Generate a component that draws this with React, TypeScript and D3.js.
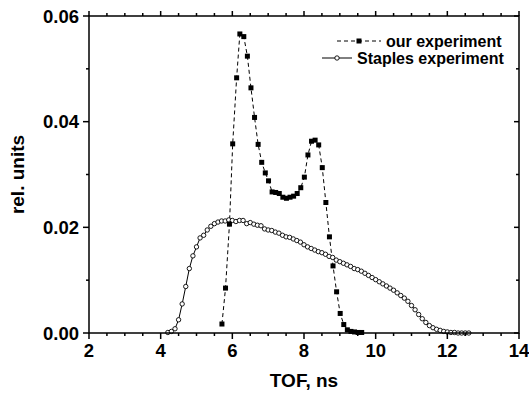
import React from "react";
import * as d3 from "d3";

const ourX = [5.71, 5.81, 5.92, 6.01, 6.12, 6.21, 6.32, 6.42, 6.52, 6.62, 6.72, 6.82, 6.92, 7.01, 7.11, 7.21, 7.31, 7.41, 7.51, 7.61, 7.71, 7.81, 7.91, 8.01, 8.11, 8.21, 8.31, 8.41, 8.51, 8.61, 8.71, 8.81, 8.91, 9.01, 9.11, 9.21, 9.31, 9.41, 9.51, 9.61];
const ourY = [0.0017, 0.0085, 0.0206, 0.0358, 0.0483, 0.0566, 0.0561, 0.0524, 0.0464, 0.0408, 0.0357, 0.0323, 0.0303, 0.0288, 0.0267, 0.0266, 0.0264, 0.0257, 0.0255, 0.0257, 0.0259, 0.0264, 0.0275, 0.0295, 0.0337, 0.0363, 0.0365, 0.0356, 0.0313, 0.0247, 0.0182, 0.0127, 0.0078, 0.0037, 0.0016, 0.0006, 0.0003, 0.0002, 0.0001, 0.0001];

const stapX = [4.2, 4.3, 4.4, 4.5, 4.6, 4.7, 4.8, 4.9, 5.0, 5.1, 5.2, 5.3, 5.4, 5.5, 5.6, 5.7, 5.8, 5.9, 6.0, 6.1, 6.2, 6.3, 6.4, 6.5, 6.6, 6.7, 6.8, 6.9, 7.0, 7.1, 7.2, 7.3, 7.4, 7.5, 7.6, 7.7, 7.8, 7.9, 8.0, 8.1, 8.2, 8.3, 8.4, 8.5, 8.6, 8.7, 8.8, 8.9, 9.0, 9.1, 9.2, 9.3, 9.4, 9.5, 9.6, 9.7, 9.8, 9.9, 10.0, 10.1, 10.2, 10.3, 10.4, 10.5, 10.6, 10.7, 10.8, 10.9, 11.0, 11.1, 11.2, 11.3, 11.4, 11.5, 11.6, 11.7, 11.8, 11.9, 12.0, 12.1, 12.2, 12.3, 12.4, 12.5, 12.6];
const stapY = [0.0001, 0.0003, 0.0008, 0.0025, 0.0055, 0.0088, 0.0122, 0.0146, 0.0163, 0.018, 0.0185, 0.0195, 0.0202, 0.0207, 0.021, 0.0212, 0.0212, 0.0214, 0.0213, 0.0211, 0.0213, 0.0213, 0.0207, 0.0209, 0.0206, 0.0204, 0.0203, 0.0197, 0.0195, 0.0194, 0.0191, 0.0189, 0.0185, 0.0182, 0.0181, 0.0178, 0.0175, 0.0172, 0.0167, 0.0163, 0.016, 0.0157, 0.0154, 0.0152, 0.0149, 0.0145, 0.0143, 0.0138, 0.0135, 0.0132, 0.0129, 0.0126, 0.0122, 0.012, 0.0117, 0.0113, 0.0109, 0.0105, 0.0101, 0.0097, 0.0093, 0.0089, 0.0085, 0.0081, 0.0076, 0.0071, 0.0066, 0.006, 0.0052, 0.0044, 0.0035, 0.0027, 0.002, 0.0014, 0.001, 0.0007, 0.0005, 0.0003, 0.0002, 0.0001, 0.0001, 0, 0, 0, 0];

const xMajor = [2, 4, 6, 8, 10, 12, 14];
const xMinor = [3, 5, 7, 9, 11, 13, 2.5, 3.5, 4.5, 5.5, 6.5, 7.5, 8.5, 9.5, 10.5, 11.5, 12.5, 13.5];
const yMajor = [0, 0.02, 0.04, 0.06];
const yMinor = [0.01, 0.03, 0.05];
const xTitle = "TOF, ns";
const yTitle = "rel. units";
const legendLabels = ["our experiment", "Staples experiment"];

const W = 529, H = 394;
const L = 89, R = 519, T = 16, B = 333;
const FONT = "'Liberation Sans', Arial, sans-serif";

export default function App() {
  const x = d3.scaleLinear().domain([2, 14]).range([L, R]);
  const y = d3.scaleLinear().domain([0, 0.06]).range([B, T]);
  const our = ourX.map((v, i) => [v, ourY[i]] as [number, number]);
  const stap = stapX.map((v, i) => [v, stapY[i]] as [number, number]);
  const line = d3.line<[number, number]>().x(d => x(d[0])).y(d => y(d[1]));
  const sw = 1.5;
  const ly1 = 41, ly2 = 58;
  return (
    <svg width={W} height={H} style={{ position: "absolute", left: 0, top: 0, background: "#fff" }} fontFamily={FONT}>
      <rect width={W} height={H} fill="#fff" />
      {/* data */}
      <path d={line(stap) || ""} fill="none" stroke="#000" strokeWidth={1} />
      <path d={line(our) || ""} fill="none" stroke="#000" strokeWidth={1} strokeDasharray="4,3" />
      {stap.map((d, i) => (
        <circle key={"c" + i} cx={x(d[0])} cy={y(d[1])} r={2.2} fill="#fff" stroke="#000" strokeWidth={0.9} />
      ))}
      {our.map((d, i) => (
        <rect key={"s" + i} x={x(d[0]) - 2.5} y={y(d[1]) - 2.5} width={5} height={5} fill="#000" />
      ))}
      {/* frame */}
      <rect x={L} y={T} width={R - L} height={B - T} fill="none" stroke="#000" strokeWidth={sw} />
      {/* x ticks */}
      {xMajor.map(v => (
        <g key={"xm" + v}>
          <line x1={x(v)} x2={x(v)} y1={B} y2={B + 6} stroke="#000" strokeWidth={sw} />
          <line x1={x(v)} x2={x(v)} y1={T} y2={T - 5} stroke="#000" strokeWidth={sw} />
          <text x={x(v)} y={357} textAnchor="middle" fontSize={18.5} fontWeight="bold">{v}</text>
        </g>
      ))}
      {xMinor.map(v => (
        <g key={"xn" + v}>
          <line x1={x(v)} x2={x(v)} y1={B} y2={B + 3} stroke="#000" strokeWidth={sw} />
          <line x1={x(v)} x2={x(v)} y1={T} y2={T - 3} stroke="#000" strokeWidth={sw} />
        </g>
      ))}
      {/* y ticks */}
      {yMajor.map(v => (
        <g key={"ym" + v}>
          <line x1={L} x2={L - 6} y1={y(v)} y2={y(v)} stroke="#000" strokeWidth={sw} />
          <line x1={R} x2={R - 5} y1={y(v)} y2={y(v)} stroke="#000" strokeWidth={sw} />
          <text x={79} y={y(v)} dy="0.36em" textAnchor="end" fontSize={18.5} fontWeight="bold">{v.toFixed(2)}</text>
        </g>
      ))}
      {yMinor.map(v => (
        <g key={"yn" + v}>
          <line x1={L} x2={L - 3} y1={y(v)} y2={y(v)} stroke="#000" strokeWidth={sw} />
          <line x1={R} x2={R - 3} y1={y(v)} y2={y(v)} stroke="#000" strokeWidth={sw} />
        </g>
      ))}
      {/* titles */}
      <text x={(L + R) / 2} y={387} textAnchor="middle" fontSize={19} fontWeight="bold">{xTitle}</text>
      <text transform={`translate(24,${(T + B) / 2}) rotate(-90)`} textAnchor="middle" fontSize={19} fontWeight="bold">{yTitle}</text>
      {/* legend */}
      <line x1={337} x2={381} y1={ly1} y2={ly1} stroke="#000" strokeWidth={1} strokeDasharray="4,3" />
      <rect x={359 - 2.5} y={ly1 - 2.5} width={5} height={5} fill="#000" />
      <text x={386} y={ly1} dy="0.36em" fontSize={16} fontWeight="bold">{legendLabels[0]}</text>
      <line x1={322} x2={352} y1={ly2} y2={ly2} stroke="#000" strokeWidth={1} />
      <circle cx={337} cy={ly2} r={2.2} fill="#fff" stroke="#000" strokeWidth={0.9} />
      <text x={357} y={ly2} dy="0.36em" fontSize={16} fontWeight="bold">{legendLabels[1]}</text>
    </svg>
  );
}
